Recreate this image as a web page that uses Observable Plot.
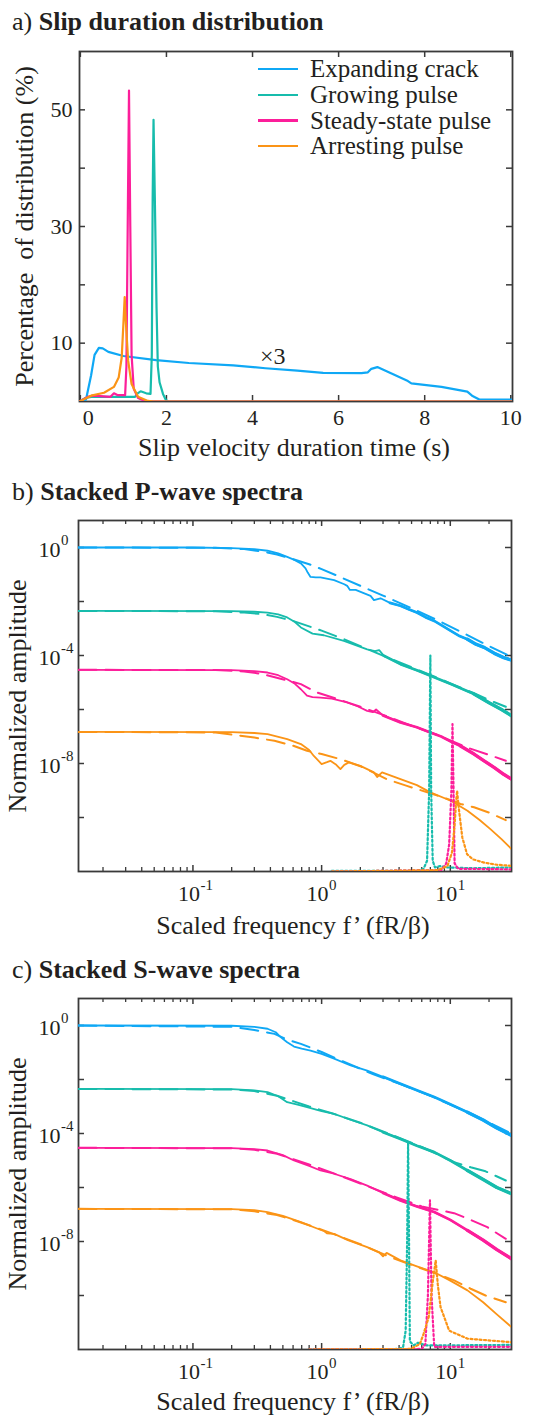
<!DOCTYPE html>
<html>
<head>
<meta charset="utf-8">
<script src="https://cdn.jsdelivr.net/npm/d3@7"></script>
<script src="https://cdn.jsdelivr.net/npm/@observablehq/plot@0.6"></script>
<style>
  html, body { margin: 0; padding: 0; background: #fff; }
  body { width: 540px; font-family: "Liberation Serif", "Times New Roman", serif; color: #231f20; }
  .panel { position: relative; width: 540px; }
  .title { position: absolute; left: 12px; top: 9px; font-size: 26px; line-height: 26px; white-space: pre; }
  .title b { font-weight: bold; }
  .plot { position: absolute; left: 0; top: 40px; }
  .legend { position: absolute; left: 258px; top: 56px; }
  .legend .row { display: flex; align-items: center; height: 25.8px; }
  .legend .sw { width: 40px; height: 2.4px; margin-right: 12px; }
  .legend .lab { font-size: 25px; line-height: 25.8px; white-space: nowrap; }
</style>
</head>
<body>
<div class="panel" style="height:470px">
  <div class="title">a) <b>Slip duration distribution</b></div>
  <div class="plot" id="plotA"></div>
  <div class="legend" id="legendA"></div>
</div>
<div class="panel" style="height:478px">
  <div class="title">b) <b>Stacked P-wave spectra</b></div>
  <div class="plot" id="plotB"></div>
</div>
<div class="panel" style="height:468px">
  <div class="title">c) <b>Stacked S-wave spectra</b></div>
  <div class="plot" id="plotC"></div>
</div>
<script>
// ---------- shared ----------
const categories = ["Expanding crack", "Growing pulse", "Steady-state pulse", "Arresting pulse"];
const palette = ["#0fa8f5", "#17bcac", "#fc1e9a", "#fb9416"];
const noisySeries = ["Expanding crack", "Growing pulse", "Steady-state pulse"];

// ---------- panel a: slip duration distribution [time (s), percent] ----------
const slipExpanding = [[-0.02,0],[0.13,0.3],[0.25,4.5],[0.33,8.0],[0.43,9.2],[0.52,9.1],[0.65,8.5],[1.0,7.8],[1.76,7.1],[2.52,6.6],[3.55,6.2],[4.3,5.7],[5.04,5.3],[5.64,4.9],[6.53,4.85],[6.68,5.0],[6.76,5.6],[6.9,5.9],[7.61,3.5],[7.69,3.1],[8.39,2.5],[8.99,1.7],[9.1,1.0],[9.27,0.34],[10.04,0.34]];
const slipGrowing = [[-0.02,0],[0.12,0.6],[0.25,0.8],[1.27,0.8],[1.33,1.4],[1.4,1.75],[1.53,1.4],[1.63,1.3],[1.66,8],[1.68,35],[1.70,48.3],[1.73,35],[1.77,16],[1.8,6],[1.84,3.3],[1.92,1.3],[1.99,0.2],[2.05,0],[10.04,0]];
const slipSteady = [[-0.02,0],[0.17,0.8],[0.29,1.0],[0.7,0.8],[0.78,1.4],[0.86,1.1],[1.04,1.1],[1.07,6],[1.1,30],[1.13,53.3],[1.16,30],[1.19,8],[1.24,2.2],[1.34,0.6],[1.5,0.1],[1.6,0],[10.04,0]];
const slipArresting = [[-0.02,0],[0.25,1.0],[0.55,1.5],[0.78,2.5],[0.89,4.1],[0.96,7.5],[1.0,13.3],[1.03,17.9],[1.06,13.3],[1.11,7.0],[1.19,3.0],[1.34,0.8],[1.57,0.1],[1.7,0],[10.04,0]];
const slipXTicks = [0, 2, 4, 6, 8, 10];
const slipYTicks = [10, 20, 30, 40, 50];
const slipYLabels = [10, 30, 50];
const slipNote = [{x: 4.47, y: 7.8, label: "×3"}];

// ---------- panel b: P-wave spectra [f', log10 amplitude] ----------
const pExpandingObs = [[0.0129,0],[0.1,0],[0.2,-0.02],[0.3,-0.06],[0.38,-0.12],[0.46,-0.22],[0.54,-0.35],[0.62,-0.47],[0.69,-0.59],[0.75,-0.77],[0.78,-0.93],[0.82,-1.09],[0.9,-1.11],[0.98,-1.11],[1.25,-1.21],[1.5,-1.36],[1.58,-1.42],[1.66,-1.57],[1.84,-1.57],[2.1,-1.68],[2.4,-1.79],[2.55,-1.95],[2.87,-1.88],[3.4,-2.05],[4.1,-2.16],[4.8,-2.3],[5.5,-2.41],[6.4,-2.58],[7.5,-2.72],[8.7,-2.9],[10.1,-3.09],[11.8,-3.28],[13.6,-3.4],[15.8,-3.58],[18.3,-3.7],[22,-3.92],[26,-4.08],[29.9,-4.17]];
const pGrowingObs = [[0.0129,-2.35],[0.2,-2.36],[0.3,-2.38],[0.38,-2.41],[0.46,-2.48],[0.54,-2.59],[0.62,-2.76],[0.69,-2.96],[0.85,-3.19],[1.04,-3.25],[1.49,-3.46],[2.26,-3.77],[2.6,-3.84],[2.8,-3.8],[3.05,-4.01],[4.1,-4.32],[5.5,-4.55],[7.0,-4.75],[10.1,-5.06],[15.3,-5.43],[20,-5.75],[25,-6.0],[29.9,-6.23]];
const pSteadyObs = [[0.0129,-4.53],[0.2,-4.54],[0.3,-4.58],[0.38,-4.63],[0.46,-4.73],[0.54,-4.88],[0.62,-5.05],[0.69,-5.25],[0.77,-5.49],[0.85,-5.54],[0.98,-5.56],[1.2,-5.6],[1.58,-5.74],[1.9,-5.88],[2.26,-6.05],[2.5,-6.1],[2.65,-6.0],[3.0,-6.22],[4.1,-6.48],[5.5,-6.66],[7.0,-6.85],[8.5,-7.0],[10.1,-7.19],[12,-7.35],[15.3,-7.65],[18.3,-7.9],[22,-8.15],[26,-8.4],[29.9,-8.58]];
const pArrestingObs = [[0.0129,-6.83],[0.2,-6.84],[0.3,-6.87],[0.38,-6.91],[0.54,-7.1],[0.69,-7.28],[0.8,-7.5],[0.87,-7.72],[1.0,-8.02],[1.1,-7.95],[1.17,-7.9],[1.3,-8.05],[1.4,-8.21],[1.5,-8.05],[1.63,-7.96],[2.0,-8.09],[2.55,-8.33],[2.7,-8.5],[2.95,-8.33],[4.1,-8.58],[5.5,-8.8],[7.0,-9.07],[10.1,-9.38],[13.6,-9.75],[17,-10.1],[20.5,-10.43],[25,-10.8],[29.9,-11.17]];
const pExpandingFit = [[0.0129,0],[0.15,-0.01],[0.25,-0.06],[0.35,-0.15],[0.45,-0.26],[0.6,-0.43],[0.8,-0.62],[1.0,-0.8],[1.3,-1.03],[2,-1.42],[3,-1.78],[5,-2.25],[8,-2.7],[13,-3.2],[20,-3.65],[29.9,-4.05]];
const pGrowingFit = [[0.0129,-2.35],[0.15,-2.36],[0.25,-2.41],[0.35,-2.47],[0.45,-2.57],[0.6,-2.72],[0.8,-2.92],[1.0,-3.08],[1.5,-3.4],[2.5,-3.85],[4,-4.25],[7,-4.72],[10,-5.03],[15,-5.38],[20,-5.65],[27,-5.9]];
const pSteadyFit = [[0.0129,-4.53],[0.15,-4.54],[0.25,-4.59],[0.34,-4.68],[0.48,-4.86],[0.69,-5.06],[0.92,-5.37],[1.3,-5.6],[2,-5.9],[3,-6.2],[5,-6.6],[8,-6.95],[12,-7.3],[14.3,-7.45],[20,-7.68],[27,-7.9]];
const pArrestingFit = [[0.0129,-6.83],[0.15,-6.85],[0.3,-7.04],[0.43,-7.16],[0.61,-7.35],[0.77,-7.53],[1.0,-7.65],[1.4,-7.84],[2,-8.1],[3.2,-8.58],[4.6,-8.83],[7,-9.1],[10,-9.35],[12,-9.5],[15.3,-9.62],[20,-9.82],[27,-10.1]];
const pGrowingDist = [[1.2,-11.98],[5.5,-11.98],[6.2,-11.9],[6.6,-11.6],[6.85,-9],[7.0,-4.0],[7.1,-9],[7.3,-11.6],[7.6,-11.85],[8.3,-11.8],[9.5,-11.85],[15,-11.88],[29.9,-11.85]];
const pSteadyDist = [[1.2,-12],[8.5,-11.95],[9.3,-11.7],[9.8,-11.0],[10.2,-9],[10.4,-6.54],[10.6,-9],[10.8,-11.7],[11.5,-11.9],[29.9,-11.92]];
const pArrestingDist = [[1.2,-12],[8,-11.95],[9.5,-11.8],[10.3,-11.3],[10.8,-10.3],[11.1,-9.4],[11.3,-9.01],[11.6,-9.6],[12.4,-10.74],[13.5,-11.36],[15,-11.55],[18.3,-11.67],[23,-11.75],[29.9,-11.79]];

// ---------- panel c: S-wave spectra [f', log10 amplitude] ----------
const sExpandingObs = [[0.0129,0],[0.2,-0.01],[0.3,-0.05],[0.38,-0.12],[0.44,-0.25],[0.48,-0.43],[0.54,-0.62],[0.61,-0.78],[0.7,-0.86],[0.82,-0.93],[1.0,-1.05],[1.25,-1.23],[1.68,-1.48],[2.26,-1.67],[3,-1.9],[4.1,-2.16],[5.5,-2.4],[7.5,-2.65],[10,-2.92],[13.6,-3.21],[18,-3.5],[23,-3.8],[29.9,-4.07]];
const sGrowingObs = [[0.0129,-2.35],[0.2,-2.36],[0.3,-2.4],[0.38,-2.47],[0.46,-2.62],[0.54,-2.84],[0.65,-2.93],[0.77,-3.02],[1.0,-3.17],[1.25,-3.27],[1.7,-3.5],[2.26,-3.7],[3,-3.95],[4.1,-4.2],[5.5,-4.45],[7.5,-4.69],[10,-5.0],[13.6,-5.37],[18,-5.7],[23,-6.0],[29.9,-6.23]];
const sSteadyObs = [[0.0129,-4.53],[0.2,-4.54],[0.3,-4.58],[0.38,-4.63],[0.5,-4.8],[0.61,-5.0],[0.8,-5.2],[0.98,-5.37],[1.25,-5.49],[1.7,-5.7],[2.26,-5.93],[3,-6.2],[4.1,-6.48],[5.5,-6.7],[7.5,-6.91],[10,-7.2],[13.6,-7.59],[18,-7.95],[23,-8.3],[29.9,-8.64]];
const sArrestingObs = [[0.0129,-6.79],[0.2,-6.8],[0.3,-6.84],[0.38,-6.91],[0.5,-7.05],[0.69,-7.28],[0.9,-7.5],[1.05,-7.62],[1.1,-7.7],[1.25,-7.72],[1.6,-7.95],[2.26,-8.21],[2.8,-8.4],[3.0,-8.55],[3.2,-8.42],[4.1,-8.7],[5.5,-8.92],[7.5,-9.14],[10,-9.45],[13.6,-9.81],[18,-10.25],[23,-10.7],[29.9,-11.17]];
const sExpandingFit = [[0.0129,0],[0.2,-0.05],[0.3,-0.17],[0.43,-0.31],[0.54,-0.52],[0.69,-0.68],[1,-0.98],[1.5,-1.35],[2.5,-1.8],[4,-2.15],[7,-2.6],[12,-3.1],[20,-3.6],[29.9,-4.0]];
const sGrowingFit = [[0.0129,-2.35],[0.2,-2.37],[0.3,-2.43],[0.45,-2.6],[0.6,-2.8],[0.8,-3.0],[1.2,-3.25],[2,-3.6],[3.5,-4.05],[6,-4.5],[10.7,-5.06],[14.4,-5.25],[18.8,-5.4],[27,-5.74]];
const sSteadyFit = [[0.0129,-4.53],[0.2,-4.55],[0.3,-4.6],[0.45,-4.75],[0.6,-4.95],[0.8,-5.15],[1.2,-5.45],[2,-5.85],[3.5,-6.3],[6,-6.7],[10.7,-6.95],[14.4,-7.2],[19.4,-7.47],[27,-7.9]];
const sArrestingFit = [[0.0129,-6.79],[0.2,-6.81],[0.3,-6.88],[0.45,-7.02],[0.6,-7.2],[0.8,-7.4],[1.2,-7.7],[2,-8.1],[3.5,-8.6],[6,-9.0],[10.7,-9.44],[14.4,-9.75],[18.8,-10.0],[27,-10.25]];
const sGrowingDist = [[0.8,-12],[4.0,-11.98],[4.3,-11.9],[4.5,-11.3],[4.62,-8],[4.7,-4.32],[4.78,-8],[4.85,-11.7],[5.2,-11.85],[5.6,-11.75],[6.5,-11.85],[29.9,-11.83]];
const sSteadyDist = [[0.8,-12],[6.0,-11.98],[6.4,-11.8],[6.7,-10],[6.95,-6.48],[7.15,-10],[7.5,-11.9],[29.9,-11.9]];
const sArrestingDist = [[0.8,-12],[4.9,-11.98],[5.8,-11.8],[6.2,-11.42],[6.8,-10.8],[7.3,-9.5],[7.7,-8.7],[8.0,-9.6],[8.4,-10.43],[9.8,-11.3],[13.6,-11.6],[29.9,-11.73]];

// ---------- shared spectra ticks ----------
const specXMajor = [0.1, 1, 10];
const specXExp = ["-1", "0", "1"];
const specXMinor = [0.02,0.03,0.04,0.05,0.06,0.07,0.08,0.09,0.2,0.3,0.4,0.5,0.6,0.7,0.8,0.9,2,3,4,5,6,7,8,9,20];
const specYTicks = [1, 1e-2, 1e-4, 1e-6, 1e-8, 1e-10];
const specYLabels = [1, 1e-4, 1e-8];
const specYExp = ["0", "-4", "-8"];

const INK = "#231f20";
const FRAME = "#3a3a3a";
const FONT = "'Liberation Serif', 'Times New Roman', serif";

// ---------- legend (HTML) ----------
const leg = document.getElementById("legendA");
categories.forEach((c, i) => {
  const row = document.createElement("div");
  row.className = "row";
  row.innerHTML = `<span class="sw" style="background:${palette[i]}"></span><span class="lab">${c}</span>`;
  leg.appendChild(row);
});

// ---------- panel a ----------
{
  const H = 430, mt = 11, mb = 69, ml = 79, mr = 28;
  const fh = H - mt - mb, fw = 540 - ml - mr;
  const rows = [slipExpanding, slipGrowing, slipSteady, slipArresting]
    .flatMap((arr, i) => arr.map(([x, y]) => ({x, y, name: categories[i]})));
  const chart = Plot.plot({
    width: 540, height: H, marginTop: mt, marginBottom: mb, marginLeft: ml, marginRight: mr,
    style: {fontFamily: FONT, fontSize: "22px", color: INK, background: "transparent", overflow: "visible"},
    x: {domain: [-0.02, 10.04], axis: null},
    y: {domain: [0, 60], axis: null},
    color: {domain: categories, range: palette},
    marks: [
      Plot.frame({stroke: FRAME, strokeWidth: 1.8}),
      Plot.ruleX(slipXTicks, {x: d => d, insetTop: fh - 6, stroke: FRAME, strokeWidth: 1.5}),
      Plot.ruleX(slipXTicks, {x: d => d, insetBottom: fh - 6, stroke: FRAME, strokeWidth: 1.5}),
      Plot.ruleY(slipYTicks, {y: d => d, insetRight: fw - 6, stroke: FRAME, strokeWidth: 1.5}),
      Plot.ruleY(slipYTicks, {y: d => d, insetLeft: fw - 6, stroke: FRAME, strokeWidth: 1.5}),
      Plot.line(rows, {x: "x", y: "y", z: "name", stroke: "name", strokeWidth: 2.2, clip: true}),
      Plot.text(slipNote, {x: "x", y: "y", text: "label", fontSize: 24, fill: INK, textAnchor: "middle", lineAnchor: "middle"}),
      Plot.text(slipXTicks.filter(d => d !== 0), {x: d => d, text: d => String(d), frameAnchor: "bottom", dy: 16, textAnchor: "middle", lineAnchor: "middle", fontSize: 22, fill: INK}),
      Plot.text(slipXTicks.filter(d => d === 0), {x: d => d, text: d => String(d), frameAnchor: "bottom", dy: 16, dx: 8, textAnchor: "middle", lineAnchor: "middle", fontSize: 22, fill: INK}),
      Plot.text(slipYLabels, {y: d => d, text: d => String(d), frameAnchor: "left", dx: -7, textAnchor: "end", lineAnchor: "middle", fontSize: 22, fill: INK}),
      Plot.text(["Slip velocity duration time (s)"], {text: d => d, frameAnchor: "bottom", dy: 46, dx: -2, textAnchor: "middle", lineAnchor: "middle", fontSize: 26, fill: INK}),
      Plot.text(["Percentage\u00a0 of distribution (%)"], {text: d => d, frameAnchor: "left", rotate: -90, dx: -55, textAnchor: "middle", lineAnchor: "middle", fontSize: 26, fill: INK})
    ]
  });
  document.getElementById("plotA").appendChild(chart);
}

// ---------- panels b, c ----------
function spectra(el, {obs, fit, dist, H, mt, mb, xLabelDy}) {
  const ml = 78, mr = 29;
  const fh = H - mt - mb, fw = 540 - ml - mr;
  const toRows = (sets, names) => sets.flatMap((arr, i) => arr.map(([f, lg]) => ({f, a: Math.pow(10, lg), name: names[i]})));
  const obsRows = toRows(obs, categories);
  const fitRows = toRows(fit, categories);
  const distRows = toRows(dist, categories.slice(1));
  const noisy = obsRows.filter(d => noisySeries.includes(d.name));
  const chart = Plot.plot({
    width: 540, height: H, marginTop: mt, marginBottom: mb, marginLeft: ml, marginRight: mr,
    style: {fontFamily: FONT, fontSize: "22px", color: INK, background: "transparent", overflow: "visible"},
    x: {type: "log", domain: [0.0129, 29.9], axis: null},
    y: {type: "log", domain: [1e-12, 10], axis: null},
    color: {domain: categories, range: palette},
    marks: [
      Plot.frame({stroke: FRAME, strokeWidth: 1.8}),
      Plot.ruleX(specXMajor, {x: d => d, insetTop: fh - 6, stroke: FRAME, strokeWidth: 1.5}),
      Plot.ruleX(specXMajor, {x: d => d, insetBottom: fh - 6, stroke: FRAME, strokeWidth: 1.5}),
      Plot.ruleX(specXMinor, {x: d => d, insetTop: fh - 4, stroke: FRAME, strokeWidth: 1.3}),
      Plot.ruleX(specXMinor, {x: d => d, insetBottom: fh - 4, stroke: FRAME, strokeWidth: 1.3}),
      Plot.ruleY(specYTicks, {y: d => d, insetRight: fw - 6, stroke: FRAME, strokeWidth: 1.5}),
      Plot.ruleY(specYTicks, {y: d => d, insetLeft: fw - 6, stroke: FRAME, strokeWidth: 1.5}),
      Plot.line(obsRows, {x: "f", y: "a", z: "name", stroke: "name", strokeWidth: 1.8, clip: true}),
      // thicker band where the observed spectra are noisy (high frequencies)
      Plot.line(noisy.filter(d => d.f >= 3), {x: "f", y: "a", z: "name", stroke: "name", strokeWidth: 2.7, clip: true}),
      Plot.line(noisy.filter(d => d.f >= 12), {x: "f", y: "a", z: "name", stroke: "name", strokeWidth: 3.4, clip: true}),
      Plot.line(fitRows, {x: "f", y: "a", z: "name", stroke: "name", strokeWidth: 2, strokeDasharray: "18,9", clip: true}),
      Plot.line(distRows, {x: "f", y: "a", z: "name", stroke: "name", strokeWidth: 2.2, strokeDasharray: "2,2.5", clip: true}),
      Plot.text(specXMajor, {x: d => d, text: () => "10", frameAnchor: "bottom", dy: 22.3, dx: 7, textAnchor: "end", lineAnchor: "middle", fontSize: 22, fill: INK}),
      Plot.text(specXMajor, {x: d => d, text: (d, i) => specXExp[i], frameAnchor: "bottom", dy: 14, dx: 7.5, textAnchor: "start", lineAnchor: "middle", fontSize: 15, fill: INK}),
      Plot.text(specYLabels, {y: d => d, text: () => "10", frameAnchor: "left", dx: -18, dy: 2, textAnchor: "end", lineAnchor: "middle", fontSize: 22, fill: INK}),
      Plot.text(specYLabels, {y: d => d, text: (d, i) => specYExp[i], frameAnchor: "left", dx: -17.5, dy: -7, textAnchor: "start", lineAnchor: "middle", fontSize: 15, fill: INK}),
      Plot.text(["Scaled frequency f\u2019 (fR/\u03b2)"], {text: d => d, frameAnchor: "bottom", dy: xLabelDy, dx: -2, textAnchor: "middle", lineAnchor: "middle", fontSize: 26, fill: INK}),
      Plot.text(["Normalized amplitude"], {text: d => d, frameAnchor: "left", rotate: -90, dx: -61, textAnchor: "middle", lineAnchor: "middle", fontSize: 26, fill: INK})
    ]
  });
  document.getElementById(el).appendChild(chart);
}

spectra("plotB", {
  obs: [pExpandingObs, pGrowingObs, pSteadyObs, pArrestingObs],
  fit: [pExpandingFit, pGrowingFit, pSteadyFit, pArrestingFit],
  dist: [pGrowingDist, pSteadyDist, pArrestingDist],
  H: 438, mt: 10, mb: 77, xLabelDy: 54
});
spectra("plotC", {
  obs: [sExpandingObs, sGrowingObs, sSteadyObs, sArrestingObs],
  fit: [sExpandingFit, sGrowingFit, sSteadyFit, sArrestingFit],
  dist: [sGrowingDist, sSteadyDist, sArrestingDist],
  H: 428, mt: 10, mb: 67, xLabelDy: 52.5
});
</script>
</body>
</html>
